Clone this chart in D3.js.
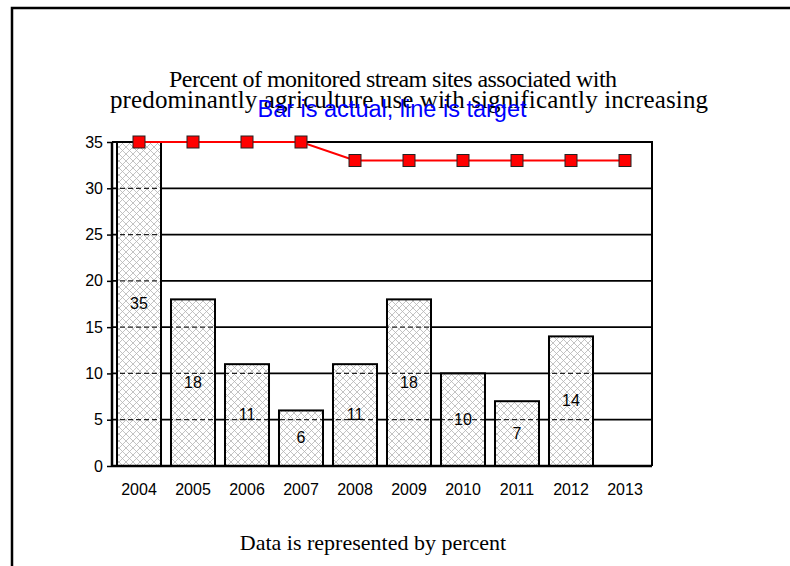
<!DOCTYPE html>
<html><head><meta charset="utf-8">
<script src="https://cdn.jsdelivr.net/npm/d3@7"></script>
<style>body{margin:0;background:#fff}svg{display:block}</style>
</head><body>
<svg id="c" width="790" height="566"></svg>
<script>
const years = ['2004','2005','2006','2007','2008','2009','2010','2011','2012','2013'];
const actual = [35,18,11,6,11,18,10,7,14,null];
const target = [35,35,35,35,33,33,33,33,33,33];
const yTicks = [0,5,10,15,20,25,30,35];
const titleLines = ['Percent of monitored stream sites associated with','predominantly agriculture use with significantly increasing'];
const subtitle = 'Bar is actual, line is target';
const footer = 'Data is represented by percent';

const svg = d3.select('#c');
const L=112,R=652,T=142,B=466;
const x = d3.scaleBand().domain(years).range([L,R]).paddingInner(0.185).paddingOuter(0.0925);
const y = d3.scaleLinear().domain([0,35]).range([B,T]);

// frame
svg.append('rect').attr('x',12).attr('y',8).attr('width',800).attr('height',600)
  .attr('fill','none').attr('stroke','#000').attr('stroke-width',2.5);

const defs = svg.append('defs');
const pat = defs.append('pattern').attr('id','hatch').attr('patternUnits','userSpaceOnUse')
  .attr('width',7).attr('height',7);
pat.append('rect').attr('width',7).attr('height',7).attr('fill','#fff');
pat.append('path').attr('d','M0,0L7,7M7,0L0,7').attr('stroke','#b4b4b4').attr('stroke-width',0.8);

// titles
const serif = 'Liberation Serif, Times New Roman, serif';
const sans = 'Liberation Sans, Arial, sans-serif';
svg.append('text').attr('x',393).attr('y',87).attr('text-anchor','middle').attr('font-family',serif)
  .attr('font-size',24).attr('textLength',448).attr('lengthAdjust','spacing').text(titleLines[0]);
svg.append('text').attr('x',409).attr('y',108).attr('text-anchor','middle').attr('font-family',serif)
  .attr('font-size',25).attr('textLength',598).attr('lengthAdjust','spacing').text(titleLines[1]);
svg.append('text').attr('x',392).attr('y',117).attr('text-anchor','middle')
  .attr('font-family',sans).attr('font-size',23.5).attr('fill','#0000ff').text(subtitle);
svg.append('text').attr('x',373).attr('y',550).attr('text-anchor','middle')
  .attr('font-family',serif).attr('font-size',22).attr('fill','#000').text(footer);

// gridlines
svg.append('g').selectAll('line').data(yTicks.filter(d=>d>0)).join('line')
  .attr('x1',L).attr('x2',R).attr('y1',d=>y(d)).attr('y2',d=>y(d))
  .attr('stroke','#000').attr('stroke-width',1.8);

// bars
const bd = years.map((k,i)=>({k,v:actual[i]})).filter(d=>d.v!=null);
svg.append('g').selectAll('rect').data(bd).join('rect')
  .attr('x',d=>x(d.k)).attr('width',x.bandwidth())
  .attr('y',d=>y(d.v)).attr('height',d=>B-y(d.v))
  .attr('fill','url(#hatch)').attr('stroke','#000').attr('stroke-width',2);

// dashed gridlines through bars
const clip = defs.append('clipPath').attr('id','barclip');
clip.selectAll('rect').data(bd).join('rect')
  .attr('x',d=>x(d.k)+1).attr('width',x.bandwidth()-2)
  .attr('y',d=>y(d.v)+1).attr('height',d=>B-y(d.v)-1);
svg.append('g').attr('clip-path','url(#barclip)').selectAll('line').data(yTicks.filter(d=>d>0)).join('line')
  .attr('x1',L).attr('x2',R).attr('y1',d=>y(d)).attr('y2',d=>y(d))
  .attr('stroke','#222').attr('stroke-width',1.2).attr('stroke-dasharray','5,3');

// bar labels
svg.append('g').selectAll('text').data(bd).join('text')
  .attr('x',d=>x(d.k)+x.bandwidth()/2).attr('y',d=>(y(d.v)+B)/2+5)
  .attr('text-anchor','middle').attr('font-family',sans)
  .attr('font-size',16).attr('fill','#000').text(d=>d.v);

// plot border
svg.append('path').attr('d',`M${L},${T}H${R}V${B}`).attr('fill','none').attr('stroke','#000').attr('stroke-width',2);

// axes
const ya = svg.append('g').attr('transform',`translate(${L},0)`)
  .call(d3.axisLeft(y).tickValues(yTicks).tickSize(5).tickPadding(4));
const xa = svg.append('g').attr('transform',`translate(0,${B})`)
  .call(d3.axisBottom(x).tickSize(0).tickPadding(18));
[ya,xa].forEach(a=>{
  a.select('.domain').attr('stroke','#000').attr('stroke-width',2.5);
  a.selectAll('.tick line').attr('stroke','#000').attr('stroke-width',1.5);
  a.selectAll('text').attr('font-family',sans).attr('font-size',16).attr('fill','#000');
});
xa.select('.domain').attr('d',`M${L},0H${R}`);
ya.select('.domain').attr('d',`M0,${B}V${T}`);

// target line
const line = d3.line().x((d,i)=>x(years[i])+x.bandwidth()/2).y(d=>y(d));
svg.append('path').datum(target).attr('d',line).attr('fill','none').attr('stroke','#ff0000').attr('stroke-width',2);
svg.append('g').selectAll('rect').data(target).join('rect')
  .attr('x',(d,i)=>x(years[i])+x.bandwidth()/2-6).attr('y',d=>y(d)-6)
  .attr('width',12).attr('height',12).attr('fill','#ff0000').attr('stroke','#222').attr('stroke-width',1);
</script>
</body></html>
